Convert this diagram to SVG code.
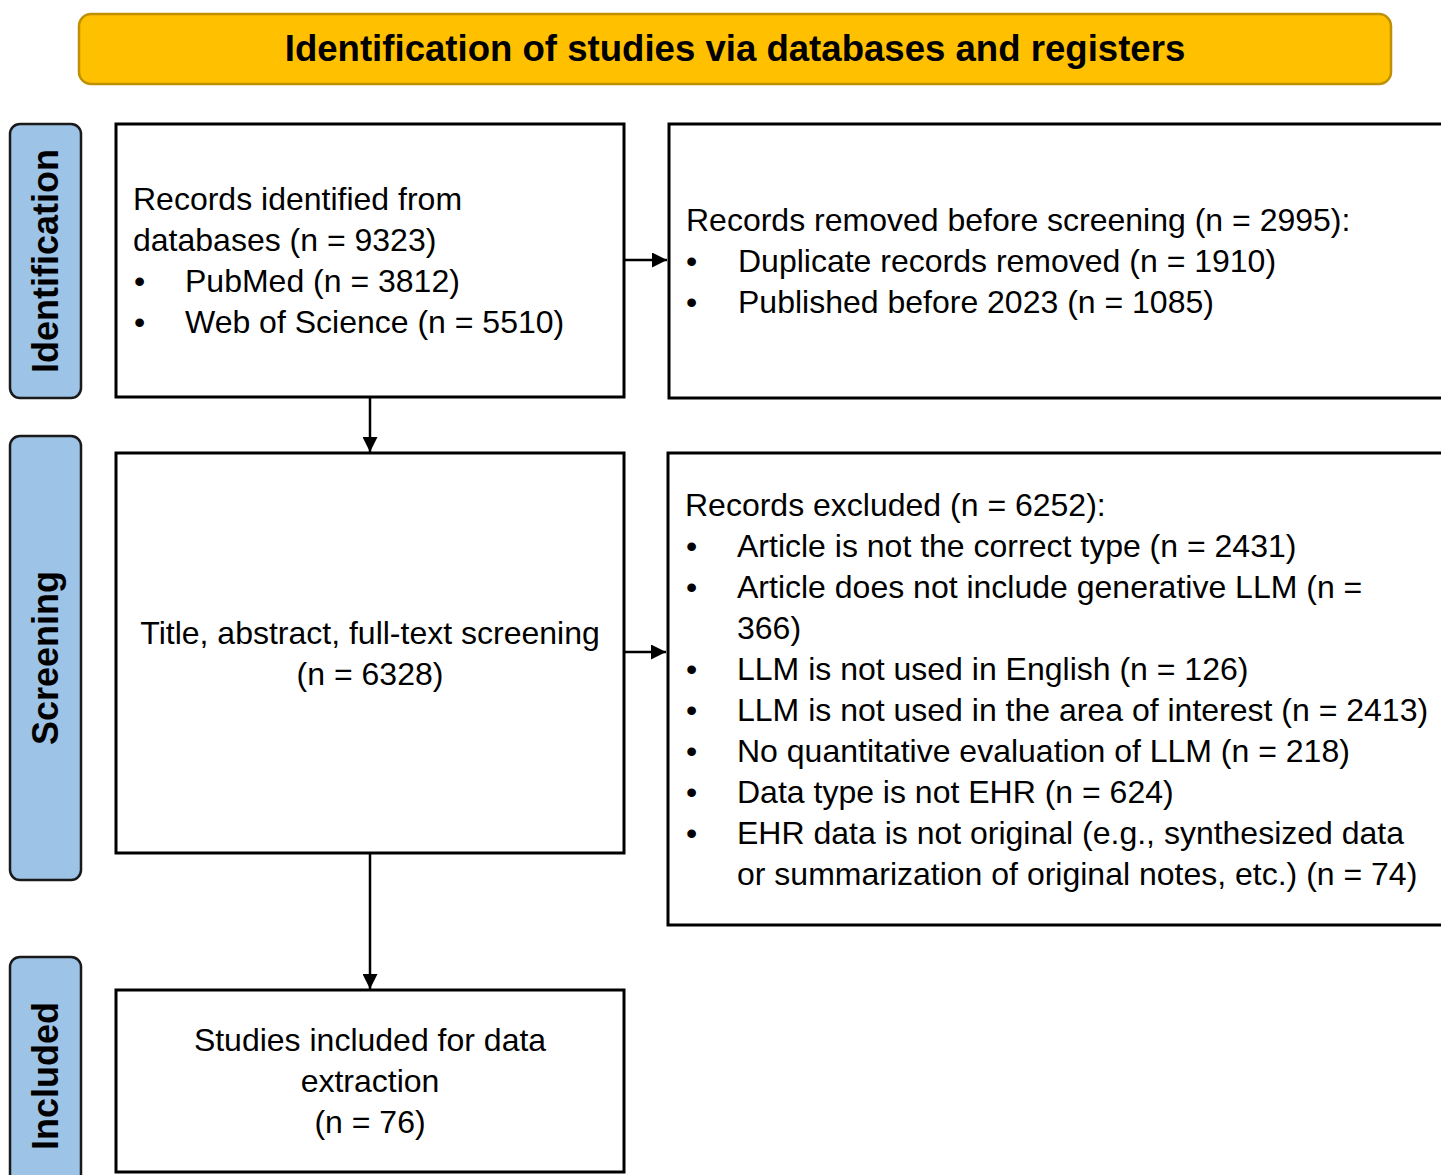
<svg xmlns="http://www.w3.org/2000/svg" width="1441" height="1175" viewBox="0 0 1441 1175">
<style>
.box{fill:#fff;stroke:#000;stroke-width:3}
.side{fill:#9DC3E6;stroke:#1a1a1a;stroke-width:2.5}
.t{font-family:"Liberation Sans",Arial,sans-serif;font-size:32px;fill:#000}
.b{font-family:"Liberation Sans",Arial,sans-serif;font-size:36px;font-weight:bold;fill:#000}
.c{text-anchor:middle}
.ln{stroke:#000;stroke-width:2.5;fill:none}
</style>
<defs>
<marker id="ah" viewBox="0 0 10 10" refX="10" refY="5" markerWidth="6" markerHeight="6" markerUnits="strokeWidth" orient="auto">
<path d="M0,0 L10,5 L0,10 z" fill="#000"/>
</marker>
</defs>
<rect width="1441" height="1175" fill="#fff"/>
<g id="banner">
<rect x="79" y="14" width="1312" height="70" rx="12" fill="#FFC000" stroke="#BF9000" stroke-width="2.5"/>
<text class="b c" x="735" y="61" style="font-size:36.6px">Identification of studies via databases and registers</text>
</g>
<g id="side-identification">
<rect class="side" x="10" y="124" width="71" height="274" rx="10"/>
<text class="b c" transform="translate(58,261) rotate(-90)">Identification</text>
</g>
<g id="side-screening">
<rect class="side" x="10" y="436" width="71" height="444" rx="10"/>
<text class="b c" transform="translate(58,658) rotate(-90)">Screening</text>
</g>
<g id="side-included">
<rect class="side" x="10" y="957" width="71" height="240" rx="10"/>
<text class="b c" transform="translate(58,1076) rotate(-90)">Included</text>
</g>
<g id="records-identified">
<rect class="box" x="116" y="124" width="508" height="273"/>
<text class="t" x="133" y="210">Records identified from</text>
<text class="t" x="133" y="251">databases (n = 9323)</text>
<text class="t" x="134" y="292">•</text><text class="t" x="185" y="292">PubMed (n = 3812)</text>
<text class="t" x="134" y="333">•</text><text class="t" x="185" y="333">Web of Science (n = 5510)</text>
</g>
<g id="records-removed">
<rect class="box" x="669" y="124" width="790" height="274"/>
<text class="t" x="686" y="231">Records removed before screening (n = 2995):</text>
<text class="t" x="686" y="272">•</text><text class="t" x="738" y="272">Duplicate records removed (n = 1910)</text>
<text class="t" x="686" y="313">•</text><text class="t" x="738" y="313">Published before 2023 (n = 1085)</text>
</g>
<g id="screening">
<rect class="box" x="116" y="453" width="508" height="400"/>
<text class="t c" x="370" y="644">Title, abstract, full-text screening</text>
<text class="t c" x="370" y="685">(n = 6328)</text>
</g>
<g id="records-excluded">
<rect class="box" x="668" y="453" width="790" height="472"/>
<text class="t" x="685" y="516">Records excluded (n = 6252):</text>
<text class="t" x="686" y="557">•</text><text class="t" x="737" y="557">Article is not the correct type (n = 2431)</text>
<text class="t" x="686" y="598">•</text><text class="t" x="737" y="598">Article does not include generative LLM (n =</text>
<text class="t" x="737" y="639">366)</text>
<text class="t" x="686" y="680">•</text><text class="t" x="737" y="680">LLM is not used in English (n = 126)</text>
<text class="t" x="686" y="721">•</text><text class="t" x="737" y="721">LLM is not used in the area of interest (n = 2413)</text>
<text class="t" x="686" y="762">•</text><text class="t" x="737" y="762">No quantitative evaluation of LLM (n = 218)</text>
<text class="t" x="686" y="803">•</text><text class="t" x="737" y="803">Data type is not EHR (n = 624)</text>
<text class="t" x="686" y="844">•</text><text class="t" x="737" y="844">EHR data is not original (e.g., synthesized data</text>
<text class="t" x="737" y="885">or summarization of original notes, etc.) (n = 74)</text>
</g>
<g id="included">
<rect class="box" x="116" y="990" width="508" height="182"/>
<text class="t c" x="370" y="1051">Studies included for data</text>
<text class="t c" x="370" y="1092">extraction</text>
<text class="t c" x="370" y="1133">(n = 76)</text>
</g>
<g id="connectors">
<line class="ln" x1="624" y1="260" x2="667" y2="260" marker-end="url(#ah)"/>
<line class="ln" x1="370" y1="397" x2="370" y2="452" marker-end="url(#ah)"/>
<line class="ln" x1="624" y1="652" x2="666" y2="652" marker-end="url(#ah)"/>
<line class="ln" x1="370" y1="853" x2="370" y2="989" marker-end="url(#ah)"/>
</g>
</svg>
